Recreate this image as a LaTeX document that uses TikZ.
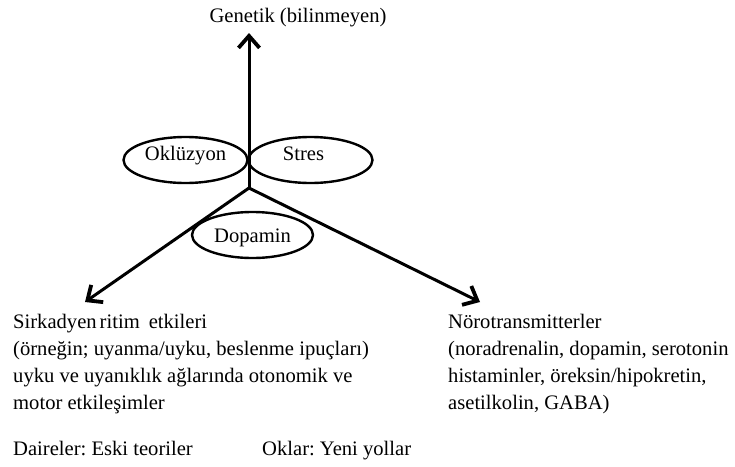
\documentclass[tikz,border=0pt]{standalone}
\usepackage{fontspec}
\setmainfont{Liberation Serif}
\usetikzlibrary{arrows.meta,shapes.geometric}
\begin{document}
\begin{tikzpicture}[x=1pt,y=-1pt,
  every node/.style={font=\fontsize{20.6}{27}\selectfont\frenchspacing},
  oval/.style={draw, ellipse, line width=2.4pt, minimum width=124pt, minimum height=46pt, inner sep=0pt},
  arr/.style={line width=3pt, -{Straight Barb[length=12pt,width=21pt,line width=3.8pt]}},
  txt/.style={anchor=base west, inner sep=0pt}]
\useasboundingbox (0,0) rectangle (735,466);
% labels
\node[anchor=base, inner sep=0pt] (gen) at (298,22) {Genetik (bilinmeyen)};
% connectors
\coordinate (j) at (249,188);
\coordinate (top) at (249,33);
\coordinate (lt) at (85,302);
\coordinate (rt) at (480,302);
\draw[arr] (j) -- (top);
\draw[arr] (j) -- (lt);
\draw[arr] (j) -- (rt);
% ovals
\node[oval, text height=8pt, text depth=8pt] (okl) at (185.5,160) {Oklüzyon};
\node[oval, text height=8pt, text depth=8pt] (str) at (310.5,160) {\hspace*{-14pt}Stres};
\node[oval, minimum width=121pt, text height=15pt, text depth=0pt] (dop) at (252.5,235) {Dopamin};
% text blocks
\node[txt] (sirk) at (13,328) {\begin{tabular}[t]{@{}l@{}}Sirkadyen\hspace{3pt}ritim\hspace{9pt}etkileri\\(örneğin; uyanma/uyku, beslenme ipuçları)\\uyku ve uyanıklık ağlarında otonomik ve\\motor etkileşimler\end{tabular}};
\node[txt] (noro) at (448,328) {\begin{tabular}[t]{@{}l@{}}Nörotransmitterler\\(noradrenalin, dopamin, serotonin\\histaminler, öreksin/hipokretin,\\asetilkolin, GABA)\end{tabular}};
\node[txt] (dair) at (13,455) {Daireler: Eski teoriler};
\node[txt] (okla) at (262,455) {Oklar: Yeni yollar};
\end{tikzpicture}
\end{document}
